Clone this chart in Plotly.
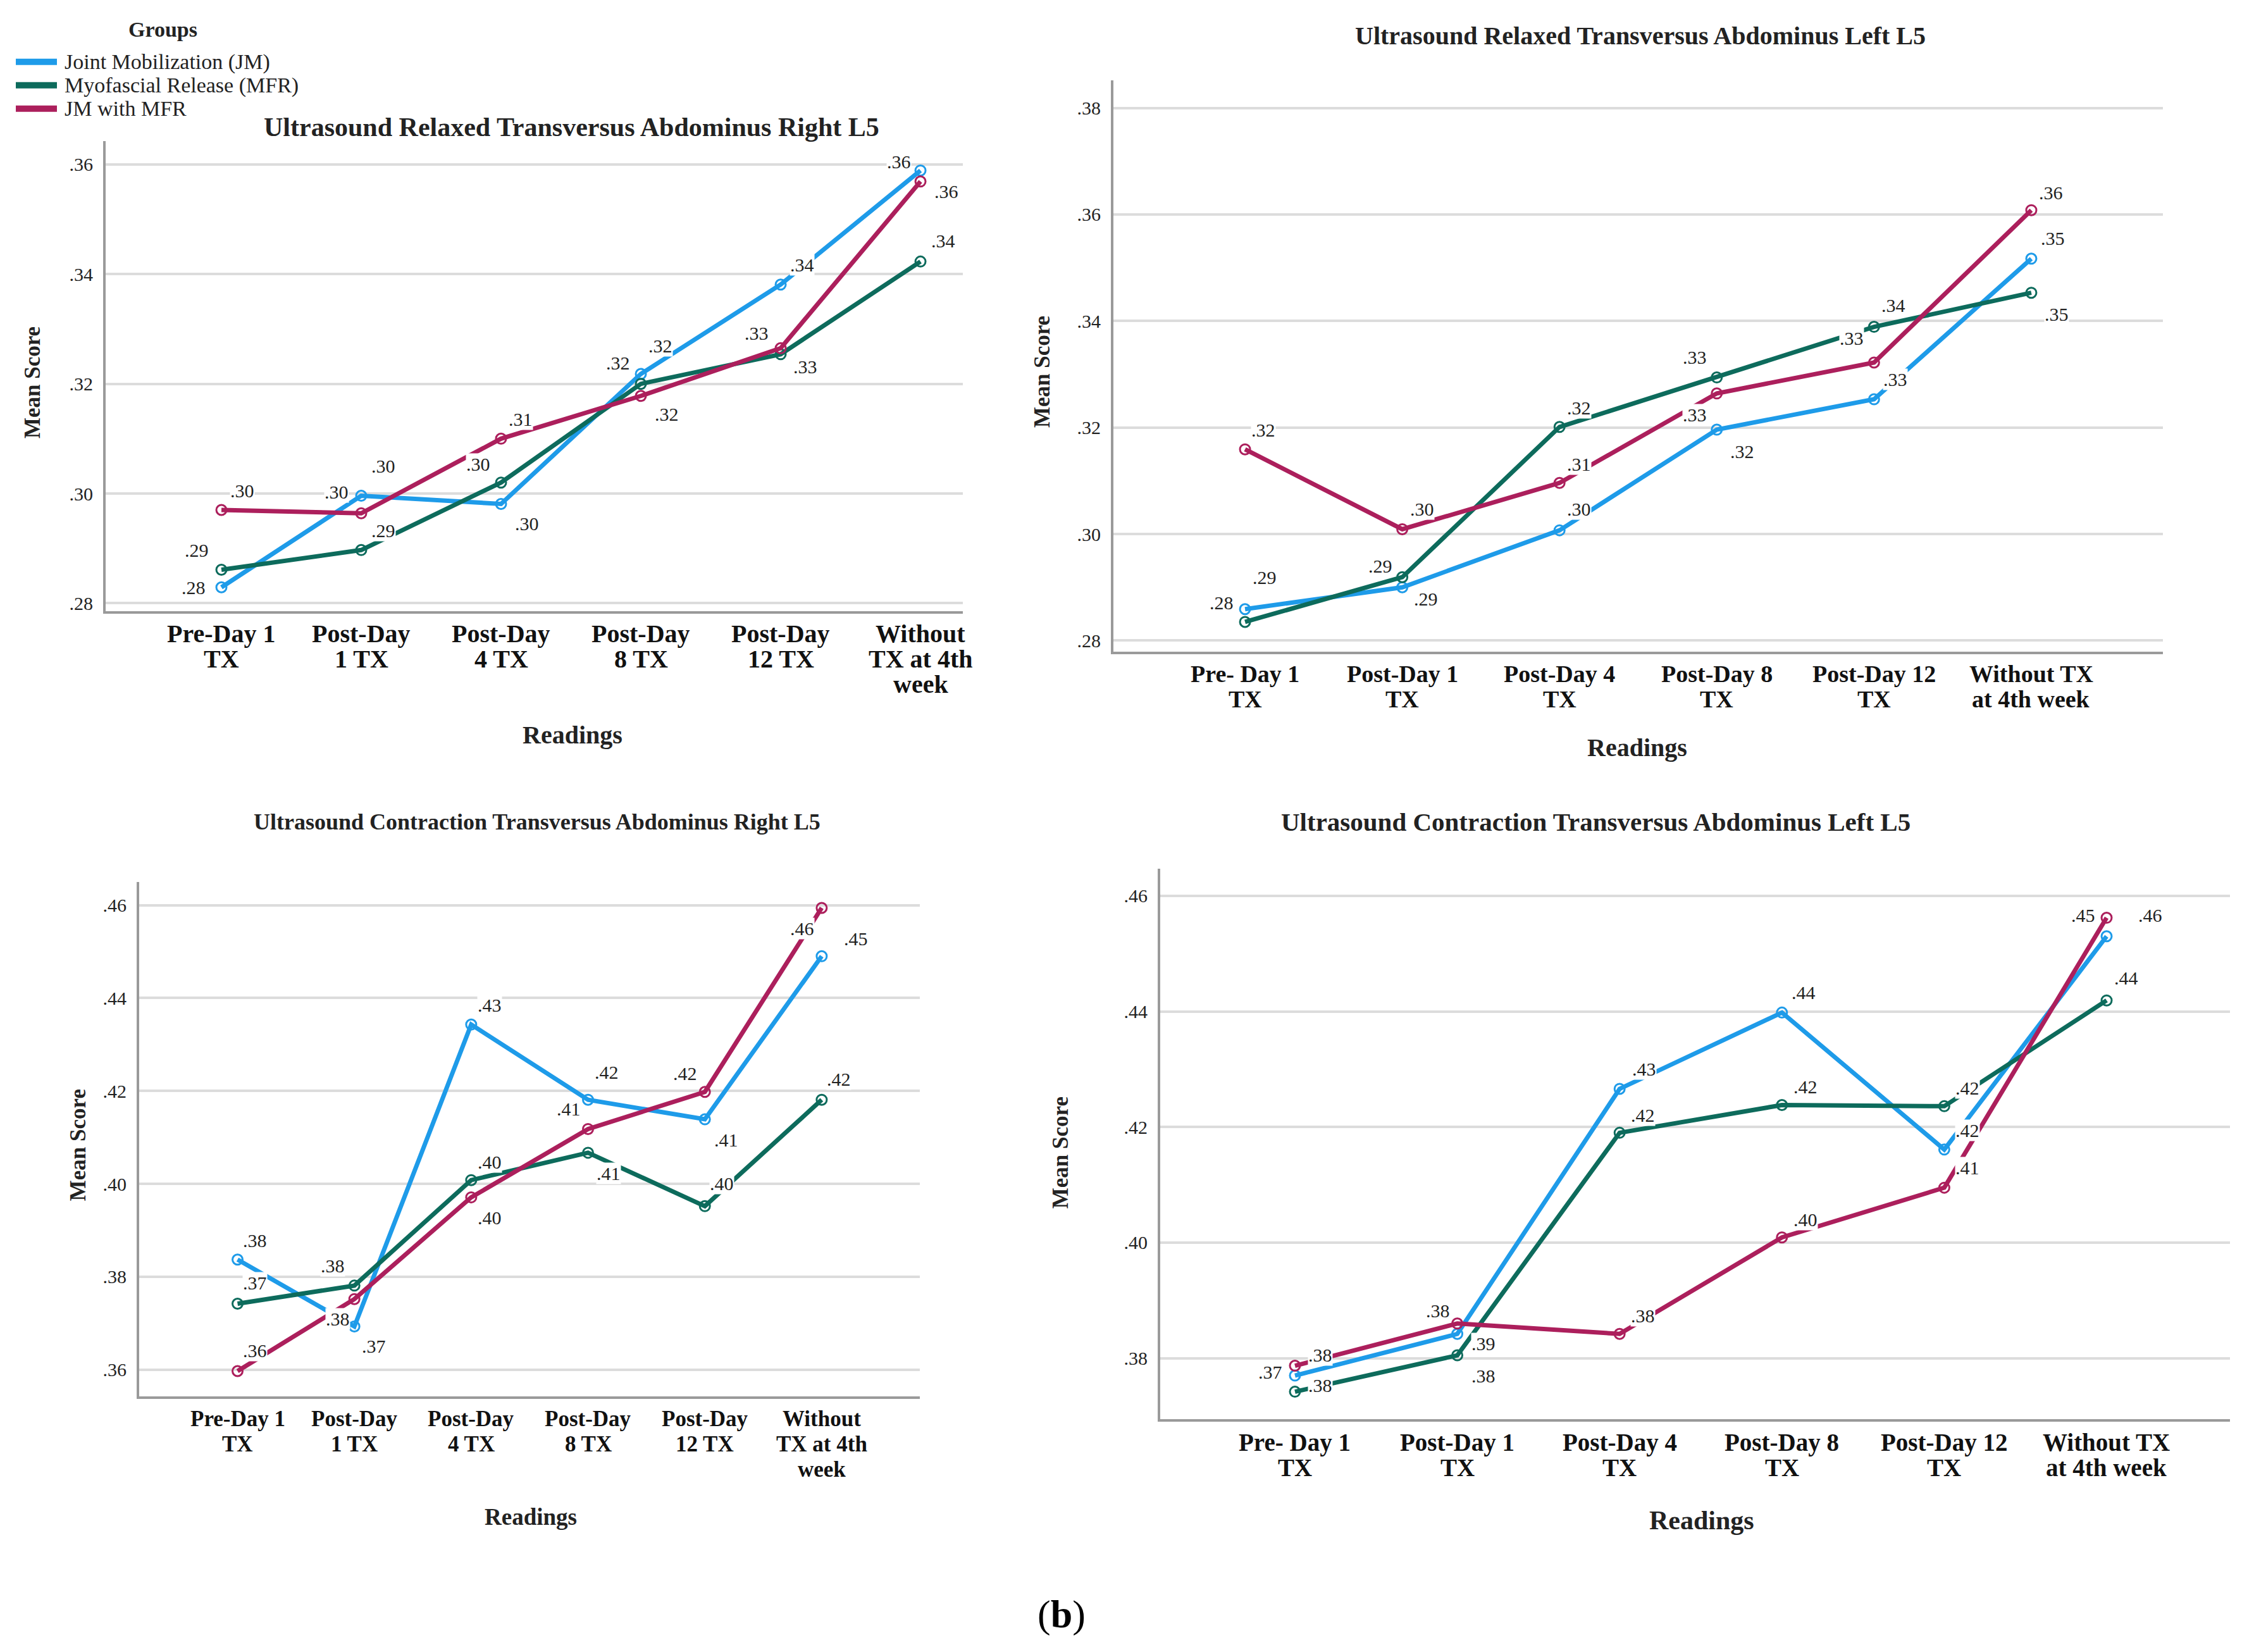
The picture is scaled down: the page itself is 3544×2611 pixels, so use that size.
import plotly.graph_objects as go

# ---------------- data ----------------
categories = ["Pre-Day 1 TX", "Post-Day 1 TX", "Post-Day 4 TX", "Post-Day 8 TX",
              "Post-Day 12 TX", "Without TX at 4th week"]
groups = ["Joint Mobilization (JM)", "Myofascial Release (MFR)", "JM with MFR"]

ticks_a = ["Pre-Day 1<br>TX", "Post-Day<br>1 TX", "Post-Day<br>4 TX", "Post-Day<br>8 TX",
           "Post-Day<br>12 TX", "Without<br>TX at 4th<br>week"]
ticks_b = ["Pre- Day 1<br>TX", "Post-Day 1<br>TX", "Post-Day 4<br>TX", "Post-Day 8<br>TX",
           "Post-Day 12<br>TX", "Without TX<br>at 4th week"]

relaxed_right_jm = [0.2829, 0.2996, 0.2981, 0.3218, 0.3381, 0.3589]
relaxed_right_mfr = [0.2861, 0.2897, 0.3020, 0.3200, 0.3254, 0.3423]
relaxed_right_jm_mfr = [0.2970, 0.2964, 0.3100, 0.3178, 0.3265, 0.3569]

relaxed_left_jm = [0.2859, 0.2900, 0.3007, 0.3196, 0.3253, 0.3517]
relaxed_left_mfr = [0.2835, 0.2919, 0.3201, 0.3294, 0.3389, 0.3453]
relaxed_left_jm_mfr = [0.3159, 0.3009, 0.3096, 0.3264, 0.3322, 0.3608]

contraction_right_jm = [0.3837, 0.3693, 0.4343, 0.4181, 0.4139, 0.4490]
contraction_right_mfr = [0.3742, 0.3781, 0.4008, 0.4067, 0.3952, 0.4181]
contraction_right_jm_mfr = [0.3597, 0.3752, 0.3971, 0.4118, 0.4198, 0.4594]

contraction_left_jm = [0.3770, 0.3842, 0.4266, 0.4398, 0.4161, 0.4530]
contraction_left_mfr = [0.3742, 0.3805, 0.4190, 0.4238, 0.4236, 0.4419]
contraction_left_jm_mfr = [0.3787, 0.3860, 0.3842, 0.4009, 0.4095, 0.4562]

yticks_relaxed_right = [0.28, 0.30, 0.32, 0.34, 0.36]
yticks_relaxed_left = [0.28, 0.30, 0.32, 0.34, 0.36, 0.38]
yticks_contraction_right = [0.36, 0.38, 0.40, 0.42, 0.44, 0.46]
yticks_contraction_left = [0.38, 0.40, 0.42, 0.44, 0.46]

titles = ["Ultrasound Relaxed Transversus Abdominus Right L5",
          "Ultrasound Relaxed Transversus Abdominus Left L5",
          "Ultrasound Contraction Transversus Abdominus Right L5",
          "Ultrasound Contraction Transversus Abdominus Left L5"]

# ---------------- styles ----------------
W, H = 3544, 2611
colors = ["#1E9BE9", "#0D6B5C", "#AC1F5C"]
FONT = "Liberation Serif"
TXT = "#222222"

def fmt(v):
    return ("%.2f" % v)[1:]

# label offsets (px, dx right, dy up) for each series point
offsets = [
    [  # relaxed right
        [(-44, 0), (-39, 6), (41, -31), (-36, 18), (34, 31), (-34, 14)],
        [(-39, 31), (35, 31), (-36, 29), (31, 60), (39, -20), (36, 33)],
        [(33, 31), (35, 75), (31, 31), (41, -29), (-38, 24), (41, -16)],
    ],
    [  # relaxed left
        [(31, 50), (37, -18), (31, 34), (40, -34), (34, 32), (34, 32)],
        [(-37, 30), (-35, 18), (31, 30), (-35, 32), (31, 34), (40, -34)],
        [(29, 31), (31, 32), (31, 30), (-35, -34), (-35, 38), (31, 28)],
    ],
    [  # contraction right
        [(27, 30), (31, -31), (29, 31), (29, 44), (34, -32), (54, 28)],
        [(27, 33), (-34, 31), (29, 29), (32, -33), (27, 36), (27, 33)],
        [(27, 32), (-26, -31), (29, -32), (-31, 32), (-31, 29), (-31, -33)],
    ],
    [  # contraction left
        [(40, -15), (-31, 37), (39, 31), (34, 32), (37, 30), (-37, 33)],
        [(-39, 31), (41, -32), (37, 28), (37, 29), (37, 29), (31, 36)],
        [(40, 17), (41, -32), (37, 29), (37, 28), (37, 32), (69, 4)],
    ],
]

panels = [
    dict(series=[relaxed_right_jm, relaxed_right_mfr, relaxed_right_jm_mfr],
         yticks=yticks_relaxed_right, ticktext=ticks_a,
         px=(167, 1522), py=(223, 967), xr=[-0.828, 5.303], yr=[0.2786, 0.3643],
         title_pos=(903, 201), title_size=42, tick_size=40, lab_off=36,
         ytitle_pos=(51, 606), xtitle_pos=(905, 1163), axis_title_size=40),
    dict(series=[relaxed_left_jm, relaxed_left_mfr, relaxed_left_jm_mfr],
         yticks=yticks_relaxed_left, ticktext=ticks_b,
         px=(1760, 3419), py=(127, 1032), xr=[-0.837, 5.837], yr=[0.27786, 0.3852],
         title_pos=(2593, 57), title_size=40, tick_size=38, lab_off=35,
         ytitle_pos=(1647, 589), xtitle_pos=(2588, 1183), axis_title_size=40),
    dict(series=[contraction_right_jm, contraction_right_mfr, contraction_right_jm_mfr],
         yticks=yticks_contraction_right, ticktext=ticks_a,
         px=(220, 1454), py=(1396, 2210), xr=[-0.842, 5.84], yr=[0.3543, 0.4650],
         title_pos=(849, 1301), title_size=36, tick_size=35, lab_off=36,
         ytitle_pos=(123, 1812), xtitle_pos=(839, 2401), axis_title_size=37),
    dict(series=[contraction_left_jm, contraction_left_mfr, contraction_left_jm_mfr],
         yticks=yticks_contraction_left, ticktext=ticks_b,
         px=(1834, 3525), py=(1375, 2246), xr=[-0.83, 5.76], yr=[0.3695, 0.4647],
         title_pos=(2522, 1301), title_size=41, tick_size=39, lab_off=37,
         ytitle_pos=(1676, 1825), xtitle_pos=(2690, 2407), axis_title_size=42),
]

fig = go.Figure()
annotations = []
shapes = []
layout = {}

for i, p in enumerate(panels):
    n = "" if i == 0 else str(i + 1)
    xa, ya = "x" + n, "y" + n
    for g, (vals, name, col) in enumerate(zip(p["series"], groups, colors)):
        fig.add_trace(go.Scatter(
            x=categories, y=vals, name=name, xaxis=xa, yaxis=ya,
            mode="lines+markers", showlegend=False,
            line=dict(color=col, width=7),
            marker=dict(symbol="circle-open", size=16, color=col,
                        line=dict(width=3, color=col)),
            hoverinfo="skip"))
        for k, v in enumerate(vals):
            dx, dy = offsets[i][g][k]
            annotations.append(dict(
                x=categories[k], y=v, xref=xa, yref=ya, text=fmt(v), showarrow=False,
                xshift=dx, yshift=dy, bgcolor="white", borderpad=0,
                font=dict(family=FONT, size=30, color=TXT)))
    # category tick labels (one annotation per text line for tight line spacing)
    for k, lab in enumerate(p["ticktext"]):
        for j, line in enumerate(lab.split("<br>")):
            annotations.append(dict(
                x=categories[k], xref=xa, yref="paper",
                y=1 - (p["py"][1] + p["lab_off"] + j * 40) / H,
                text="<b>" + line + "</b>", showarrow=False,
                xanchor="center", yanchor="middle",
                font=dict(family=FONT, size=p["tick_size"], color="#111")))
    layout["xaxis" + n] = dict(
        domain=[p["px"][0] / W, p["px"][1] / W], anchor=ya, type="category",
        range=p["xr"], showticklabels=False,
        showline=True, linecolor="#9A9A9A", linewidth=4, showgrid=False, zeroline=False,
        ticks="")
    layout["yaxis" + n] = dict(
        domain=[1 - p["py"][1] / H, 1 - p["py"][0] / H], anchor=xa,
        range=p["yr"], tickvals=p["yticks"], ticktext=[fmt(t) for t in p["yticks"]],
        showline=True, linecolor="#9A9A9A", linewidth=4, showgrid=True,
        gridcolor="#DCDCDC", gridwidth=4, zeroline=False, ticks="", ticklabelstandoff=10,
        tickfont=dict(family=FONT, size=30, color=TXT))
    annotations.append(dict(
        x=p["title_pos"][0] / W, y=1 - p["title_pos"][1] / H, xref="paper", yref="paper",
        text="<b>" + titles[i] + "</b>", showarrow=False, xanchor="center", yanchor="middle",
        font=dict(family=FONT, size=p["title_size"], color=TXT)))
    annotations.append(dict(
        x=p["xtitle_pos"][0] / W, y=1 - p["xtitle_pos"][1] / H, xref="paper", yref="paper",
        text="<b>Readings</b>", showarrow=False, xanchor="center", yanchor="middle",
        font=dict(family=FONT, size=p["axis_title_size"], color=TXT)))
    annotations.append(dict(
        x=p["ytitle_pos"][0] / W, y=1 - p["ytitle_pos"][1] / H, xref="paper", yref="paper",
        text="<b>Mean Score</b>", showarrow=False, xanchor="center", yanchor="middle",
        textangle=-90, font=dict(family=FONT, size=35, color=TXT)))

# legend (Groups)
annotations.append(dict(
    x=257 / W, y=1 - 47 / H, xref="paper", yref="paper", text="<b>Groups</b>",
    showarrow=False, xanchor="center", yanchor="middle",
    font=dict(family=FONT, size=34, color=TXT)))
for g, (name, col) in enumerate(zip(groups, colors)):
    yy = 1 - (98 + g * 37) / H
    shapes.append(dict(type="line", xref="paper", yref="paper",
                       x0=25 / W, x1=90 / W, y0=yy, y1=yy,
                       line=dict(color=col, width=10)))
    annotations.append(dict(
        x=100 / W, y=yy, xref="paper", yref="paper", text=name, showarrow=False,
        xanchor="left", yanchor="middle",
        font=dict(family=FONT, size=34, color=TXT)))

annotations.append(dict(
    x=1678 / W, y=1 - 2555 / H, xref="paper", yref="paper", text="(<b>b</b>)",
    showarrow=False, xanchor="center", yanchor="middle",
    font=dict(family=FONT, size=62, color="#000")))

fig.update_layout(
    width=W, height=H, margin=dict(l=0, r=0, t=0, b=0),
    paper_bgcolor="white", plot_bgcolor="white",
    annotations=annotations, shapes=shapes, showlegend=False,
    **layout)

fig.write_html("out.html", config={"displayModeBar": False},
               post_script="document.body.style.margin='0';")
